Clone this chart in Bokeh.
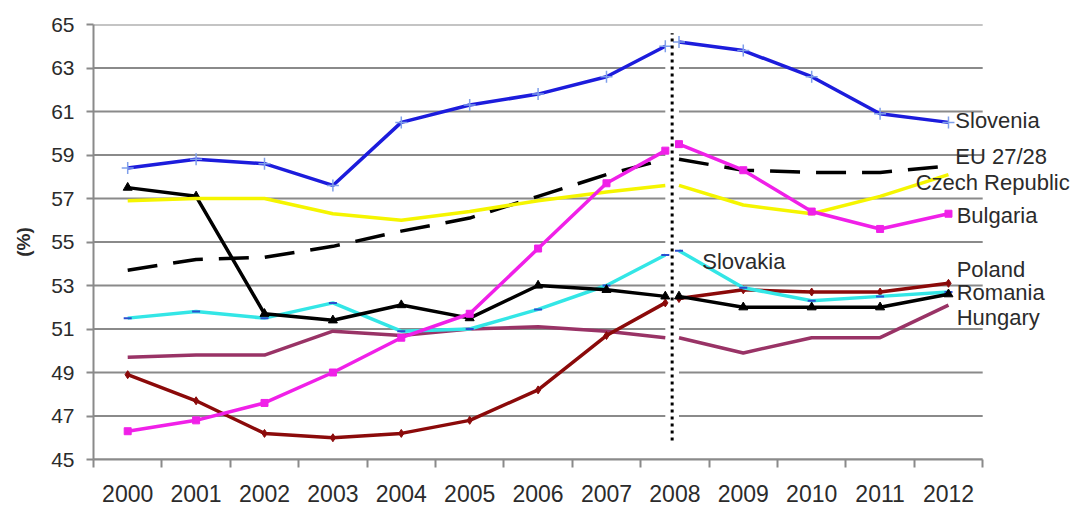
from bokeh.plotting import figure
from bokeh.models import Range1d, FixedTicker, CustomJSTickFormatter
from bokeh.core.properties import value
from bokeh.embed import file_html
from bokeh.resources import INLINE

# Years on the category axis; the series break in 2008 (EU 27 -> EU 28)
years = list(range(2000, 2013))
years_pre = years[:9]    # 2000-2008
years_post = years[8:]   # 2008-2012

# Employment rates (%)
slovenia_pre = [58.4, 58.8, 58.6, 57.6, 60.5, 61.3, 61.8, 62.6, 64.0]
slovenia_post = [64.2, 63.8, 62.6, 60.9, 60.5]
eu_pre = [53.7, 54.2, 54.3, 54.8, 55.5, 56.1, 57.1, 58.1, 58.8]
eu_post = [58.8, 58.3, 58.2, 58.2, 58.5]
czech_pre = [56.9, 57.0, 57.0, 56.3, 56.0, 56.4, 56.9, 57.3, 57.6]
czech_post = [57.6, 56.7, 56.3, 57.1, 58.1]
bulgaria_pre = [46.3, 46.8, 47.6, 49.0, 50.6, 51.7, 54.7, 57.7, 59.2]
bulgaria_post = [59.5, 58.3, 56.4, 55.6, 56.3]
slovakia_pre = [51.5, 51.8, 51.5, 52.2, 50.9, 51.0, 51.9, 53.0, 54.4]
slovakia_post = [54.6, 52.9, 52.3, 52.5, 52.7]
romania_pre = [57.5, 57.1, 51.7, 51.4, 52.1, 51.5, 53.0, 52.8, 52.5]
romania_post = [52.5, 52.0, 52.0, 52.0, 52.6]
poland_pre = [48.9, 47.7, 46.2, 46.0, 46.2, 46.8, 48.2, 50.7, 52.2]
poland_post = [52.4, 52.8, 52.7, 52.7, 53.1]
hungary_pre = [49.7, 49.8, 49.8, 50.9, 50.7, 51.0, 51.1, 50.9, 50.6]
hungary_post = [50.6, 49.9, 50.6, 50.6, 52.1]

y_ticks = list(range(45, 66, 2))

# Series labels and their anchor points (category units, %)
label_text = ["Slovenia", "EU 27/28", "Czech Republic", "Bulgaria",
              "Slovakia", "Poland", "Romania", "Hungary"]
label_x = [12.6, 12.6, 12.02, 12.62, 8.9, 12.62, 12.62, 12.62]
label_y = [60.6, 58.93, 57.74, 56.22, 54.1, 53.74, 52.66, 51.53]

N = len(years)
X_END = 14.474      # room to the right of the last category for labels
BREAK_X = 8.46      # position of the dotted separator
HALF_GAP = 0.1      # half width of the white gap around it


def xpos(yrs, side):
    xs = [years.index(y) + 0.5 for y in yrs]
    if side == "pre":
        xs[-1] = BREAK_X - HALF_GAP
    else:
        xs[0] = BREAK_X + HALF_GAP
    return xs


p = figure(width=1083, height=506,
           x_range=Range1d(0, X_END), y_range=Range1d(45, 65),
           output_backend="svg", toolbar_location=None,
           min_border_left=93, min_border_right=0,
           min_border_top=24, min_border_bottom=47)
p.outline_line_color = None
p.background_fill_color = "white"
p.border_fill_color = "white"

GRID = "#8a8a8a"
TEXT = "#2b2b2b"
FONT = "Liberation Sans"

p.xgrid.visible = False
p.ygrid.visible = False

# y axis
p.yaxis.ticker = FixedTicker(ticks=y_ticks, minor_ticks=[])
p.yaxis.axis_line_color = GRID
p.yaxis.axis_line_width = 2
p.yaxis.major_tick_line_color = GRID
p.yaxis.major_tick_line_width = 2
p.yaxis.major_tick_out = 7
p.yaxis.major_tick_in = 0
p.yaxis.minor_tick_line_color = None
p.yaxis.major_label_text_font = FONT
p.yaxis.major_label_text_font_size = "21px"
p.yaxis.major_label_text_color = TEXT
p.yaxis.major_label_standoff = 12
p.yaxis.axis_label = "(%)"
p.yaxis.axis_label_text_font = FONT
p.yaxis.axis_label_text_font_size = "19px"
p.yaxis.axis_label_text_font_style = "bold"
p.yaxis.axis_label_text_color = TEXT
p.yaxis.axis_label_standoff = 14

# x axis: labels at category centres, ticks at category boundaries
p.xaxis.bounds = (0, N)
p.xaxis.ticker = FixedTicker(ticks=[i + 0.5 for i in range(N)],
                             minor_ticks=list(range(N + 1)))
p.xaxis.formatter = CustomJSTickFormatter(
    args=dict(years=[str(y) for y in years]),
    code="return years[Math.floor(tick)];")
p.xaxis.axis_line_color = GRID
p.xaxis.axis_line_width = 2
p.xaxis.major_tick_line_color = None
p.xaxis.major_tick_out = 0
p.xaxis.major_tick_in = 0
p.xaxis.minor_tick_line_color = GRID
p.xaxis.minor_tick_line_width = 2
p.xaxis.minor_tick_out = 8
p.xaxis.minor_tick_in = 0
p.xaxis.major_label_text_font = FONT
p.xaxis.major_label_text_font_size = "23px"
p.xaxis.major_label_text_color = TEXT
p.xaxis.major_label_standoff = 17

# horizontal grid lines spanning the categories only
p.segment(x0=[0] * len(y_ticks), x1=[N] * len(y_ticks), y0=y_ticks, y1=y_ticks,
          line_color=GRID, line_width=2)

# white gap over the grid around the series break
p.quad(left=[BREAK_X - HALF_GAP], right=[BREAK_X + HALF_GAP],
       bottom=[45.15], top=[64.85], fill_color="white", line_color=None)

series = [
    ("Hungary", hungary_pre, hungary_post, "#993366", None, {}),
    ("Poland", poland_pre, poland_post, "#8b0a0a", "diamond",
     dict(size=8, fill_color="#8b0a0a", line_color="#8b0a0a")),
    ("Slovakia", slovakia_pre, slovakia_post, "#33e6e6", "dash",
     dict(size=8, line_color="#2a4fd0", line_width=2)),
    ("Romania", romania_pre, romania_post, "#000000", "triangle",
     dict(size=9, fill_color="black", line_color="black")),
    ("Czech Republic", czech_pre, czech_post, "#f5f500", None, {}),
    ("Bulgaria", bulgaria_pre, bulgaria_post, "#f020e8", "square",
     dict(size=7, fill_color="#f020e8", line_color="#f020e8")),
    ("Slovenia", slovenia_pre, slovenia_post, "#1c1cdc", "cross",
     dict(size=12, line_color="#7f9fea", line_width=1.5)),
]

# EU average drawn dashed
for yrs, vals, side in ((years_pre, eu_pre, "pre"), (years_post, eu_post, "post")):
    p.line(xpos(yrs, side), vals, line_color="black", line_width=3.5,
           line_dash="30 16")

for name, pre, post, color, marker, mk in series:
    for yrs, vals, side in ((years_pre, pre, "pre"), (years_post, post, "post")):
        xs = xpos(yrs, side)
        p.line(xs, vals, line_color=color, line_width=3.5)
        if marker:
            p.scatter(xs, vals, marker=marker, **mk)

# dotted separator between EU 27 and EU 28 periods
p.segment(x0=[BREAK_X], x1=[BREAK_X], y0=[45.87], y1=[64.6],
          line_color="black", line_width=3, line_dash="3 4")

p.text(x=label_x, y=label_y, text=label_text,
       text_font=value(FONT), text_font_size="22px",
       text_color=TEXT, text_align="left", text_baseline="middle")

open("out.html", "w").write(file_html(p, INLINE))
